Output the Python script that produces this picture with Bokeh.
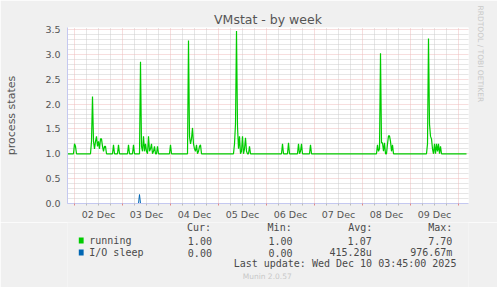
from bokeh.plotting import figure
from bokeh.layouts import column
from bokeh.models import Range1d, FixedTicker, PrintfTickFormatter, Grid, Title
from bokeh.core.properties import value
from bokeh.embed import file_html
from bokeh.resources import INLINE

# ---------------- data ----------------
title = "VMstat - by week"
y_label = "process states"
day_labels = ["02 Dec", "03 Dec", "04 Dec", "05 Dec", "06 Dec", "07 Dec", "08 Dec", "09 Dec"]
y_ticks = [0.0, 0.5, 1.0, 1.5, 2.0, 2.5, 3.0, 3.5]

# time in hours since 02 Dec 00:00
running_t = [-3.5, -0.5, 0.0, 0.5, 1.0,
             8.0, 8.5, 9.0, 9.5, 10.0, 10.5, 11.0, 11.5, 12.0, 12.5, 13.0, 13.5, 14.0, 14.5, 15.0, 15.5, 16.0,
             19.0, 19.5, 20.0, 21.5, 22.0, 22.5, 26.5, 27.0, 27.5, 29.0, 29.5, 30.0,
             32.5, 33.0, 33.5, 34.0, 34.5, 35.0, 35.5, 36.0, 36.5, 37.0, 37.5, 38.0, 38.5, 39.0, 39.5, 40.0,
             40.5, 41.0, 41.5, 42.0,
             47.5, 48.0, 48.5,
             56.5, 57.0, 57.5, 58.0, 58.5, 59.0, 59.5, 60.0, 60.5, 61.0, 61.5, 62.0, 62.5, 63.0, 63.5,
             79.5, 80.0, 80.5, 81.0, 81.5, 82.0, 82.5, 83.0, 83.5, 84.0, 84.5, 85.0, 85.5, 86.0, 86.5, 87.0,
             87.5, 88.0,
             103.5, 104.0, 104.5, 106.5, 107.0, 107.5, 111.5, 112.0, 112.5, 113.0, 113.5, 114.0,
             117.5, 118.0, 118.5,
             151.0, 151.5, 152.0, 152.5, 153.0, 153.5, 154.0, 154.5, 155.0, 155.5, 156.0, 156.5, 157.0,
             157.5, 158.0, 158.5, 159.0, 159.5,
             176.0, 176.5, 177.0, 177.5, 178.0, 178.5, 179.0, 179.5, 180.0, 180.5, 181.0, 181.5, 182.0,
             182.5, 183.0, 183.5, 196.0]
running_v = [1.0, 1.0, 1.2, 1.15, 1.0,
             1.0, 1.25, 2.15, 1.25, 1.1, 1.25, 1.35, 1.15, 1.25, 1.1, 1.3, 1.3, 1.15, 1.05, 1.15, 1.15, 1.0,
             1.0, 1.18, 1.0, 1.0, 1.18, 1.0, 1.0, 1.18, 1.0, 1.0, 1.18, 1.0,
             1.0, 2.85, 1.15, 1.05, 1.35, 1.05, 1.2, 1.05, 1.0, 1.35, 1.05, 1.1, 1.2, 1.0, 1.05, 1.15,
             1.0, 1.0, 1.15, 1.0,
             1.0, 1.18, 1.0,
             1.0, 3.28, 1.35, 1.2, 1.3, 1.52, 1.2, 1.1, 1.05, 1.18, 1.0, 1.05, 1.15, 1.18, 1.0,
             1.0, 1.2, 1.6, 3.47, 1.55, 1.1, 1.35, 1.0, 1.05, 1.35, 1.0, 1.1, 1.32, 1.05, 1.0, 1.0,
             1.15, 1.0,
             1.0, 1.2, 1.0, 1.0, 1.22, 1.0, 1.0, 1.2, 1.0, 1.05, 1.2, 1.0,
             1.0, 1.18, 1.0,
             1.0, 1.18, 1.05, 1.1, 3.02, 1.22, 1.22, 1.05, 1.22, 1.0, 1.0, 1.2, 1.36,
             1.36, 1.25, 1.05, 1.18, 1.0,
             1.0, 1.2, 3.32, 1.6, 1.35, 1.3, 1.1, 1.0, 1.2, 1.0, 1.2, 1.05, 1.2,
             1.0, 1.15, 1.0, 1.0]

io_t = [-3.5, 32.0, 32.5, 33.0, 196.0]
io_v = [0.0, 0.0, 0.18, 0.0, 0.0]

legend_names = ["running", "I/O sleep"]
legend_colors = ["#00cc00", "#0066b3"]
col_heads = ["Cur:", "Min:", "Avg:", "Max:"]
cur_vals = ["1.00", "0.00"]
min_vals = ["1.00", "0.00"]
avg_vals = ["1.07", "415.28u"]
max_vals = ["7.70", "976.67m"]
last_update = "Last update: Wed Dec 10 03:45:00 2025"
version = "Munin 2.0.57"
watermark = "RRDTOOL / TOBI OETIKER"

# ---------------- layout ----------------
W, H = 497, 287
FL, FR, FT, FB = 67, 468, 27, 204
CH = 222                      # height of the chart figure
X0, X1 = -3.5, 197.0
Y0, Y1 = 0.0, 3.54
AXIS_COLOR = "#c4c8f0"
TEXT = "#555555"
LEG = "#4a4a4a"
BG = "#f0f0f0"

p = figure(width=W, height=CH, output_backend="svg", toolbar_location=None,
           x_range=Range1d(X0, X1), y_range=Range1d(Y0, Y1),
           min_border_left=FL, min_border_right=W - FR, min_border_top=FT, min_border_bottom=CH - FB,
           background_fill_color="white", border_fill_color=BG, outline_line_color=None)

p.title.text = title
p.title.align = "center"
p.title.text_font = "DejaVu Sans"
p.title.text_font_size = "12.5px"
p.title.text_font_style = "normal"
p.title.text_color = TEXT
p.title.standoff = 2

p.add_layout(Title(text=watermark, align="left", text_font="DejaVu Sans", text_font_size="7.5px",
                   text_font_style="normal", text_color="#c8c8c8", standoff=15, offset=-22), "right")

p.xgrid.visible = False
p.ygrid.visible = False

minor_x = [d * 24 + h for d in range(-1, 9) for h in (6, 12, 18) if X0 < d * 24 + h < X1]
major_x = [d * 24 for d in range(0, 9) if X0 < d * 24 < X1]
minor_y = [i / 10 for i in range(1, 36) if i % 5]
major_y = y_ticks

for ticks, color, dim in [(minor_x, "#cccccc", 0), (minor_y, "#cccccc", 1),
                          (major_x, "#eebcbc", 0), (major_y, "#eebcbc", 1)]:
    p.add_layout(Grid(dimension=dim, ticker=FixedTicker(ticks=ticks),
                      grid_line_color=color, grid_line_dash="1 1", grid_line_width=1))

xa = p.xaxis[0]
xa.ticker = FixedTicker(ticks=minor_x, minor_ticks=major_x)
xa.major_label_overrides = {t: (day_labels[t // 24] if t % 24 == 12 else "") for t in minor_x}
xa.axis_line_color = AXIS_COLOR
xa.major_tick_line_color = "#bbbbbb"
xa.major_tick_out = 2
xa.major_tick_in = 0
xa.minor_tick_line_color = "#e08888"
xa.minor_tick_out = 2
xa.minor_tick_in = 0
xa.major_label_standoff = 3
xa.major_label_text_font = "DejaVu Sans"
xa.major_label_text_font_size = "9.5px"
xa.major_label_text_color = TEXT

ya = p.yaxis[0]
ya.ticker = FixedTicker(ticks=y_ticks, minor_ticks=[])
ya.formatter = PrintfTickFormatter(format="%.1f")
ya.axis_line_color = AXIS_COLOR
ya.major_tick_line_color = None
ya.major_tick_out = 0
ya.major_tick_in = 0
ya.minor_tick_line_color = None
ya.major_label_standoff = 7
ya.major_label_text_font = "DejaVu Sans"
ya.major_label_text_font_size = "9.5px"
ya.major_label_text_color = TEXT
ya.axis_label = y_label
ya.axis_label_text_font = "DejaVu Sans"
ya.axis_label_text_font_size = "11px"
ya.axis_label_text_font_style = "normal"
ya.axis_label_text_color = TEXT
ya.axis_label_standoff = 24

p.line(io_t, io_v, line_color=legend_colors[1], line_width=1)
p.line(running_t, running_v, line_color=legend_colors[0], line_width=1.2)

# ---------------- legend block (pixel coordinates of the page) ----------------
LH = H - CH
q = figure(width=W, height=LH, output_backend="svg", toolbar_location=None,
           x_range=Range1d(0, W), y_range=Range1d(H, CH),
           x_axis_type=None, y_axis_type=None, min_border=0,
           background_fill_color=BG, border_fill_color=BG, outline_line_color=None)
q.xgrid.visible = False
q.ygrid.visible = False

MONO = value("DejaVu Sans Mono")
q.text(x=[148, 248, 348, 447], y=[227] * 4, text=col_heads, text_font=MONO,
       text_font_size="10px", text_color=LEG, text_align="left", text_baseline="middle")

row_y = [240, 252]
q.rect(x=[17, 17], y=row_y, width=6, height=6, fill_color=legend_colors, line_color=None)
q.text(x=[27, 27], y=row_y, text=legend_names, text_font=MONO,
       text_font_size="10px", text_color=LEG, text_align="left", text_baseline="middle")
for vals, sx in zip([cur_vals, min_vals, avg_vals, max_vals], [179, 279, 377, 477]):
    q.text(x=[sx, sx], y=row_y, text=vals, text_font=MONO,
           text_font_size="10px", text_color=LEG, text_align="right", text_baseline="middle")

q.text(x=[482], y=[263], text=[last_update], text_font=MONO,
       text_font_size="10px", text_color=LEG, text_align="right", text_baseline="middle")
q.text(x=[247.5], y=[276], text=[version], text_font=value("DejaVu Sans"),
       text_font_size="7.5px", text_color="#c8c8c8", text_align="center", text_baseline="middle")

layout = column(p, q, spacing=0)
open("out.html", "w").write(file_html(layout, INLINE))
